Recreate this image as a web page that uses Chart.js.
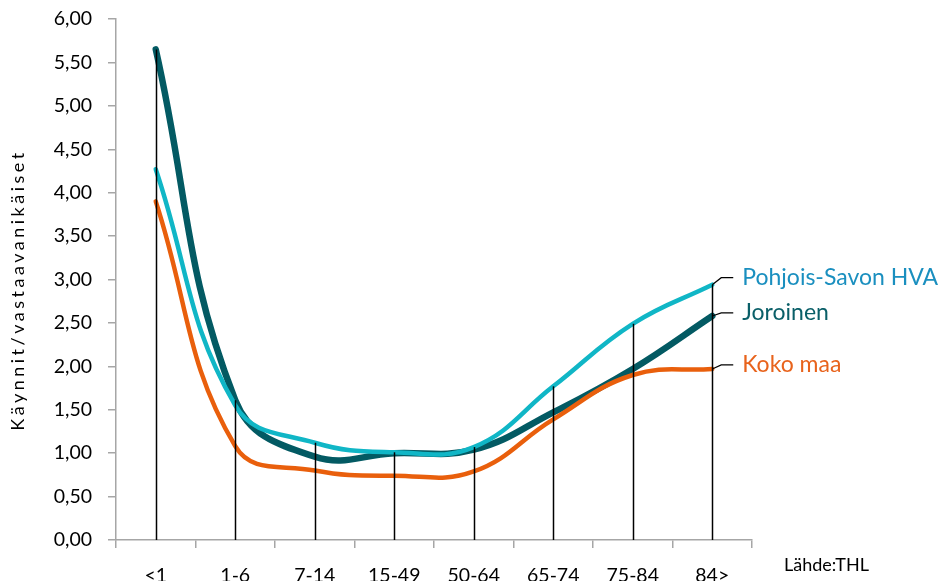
<!DOCTYPE html>
<html>
<head>
<meta charset="utf-8">
<script src="https://cdn.jsdelivr.net/npm/chart.js@4.4.1/dist/chart.umd.min.js"></script>
<style>
  html, body { margin: 0; padding: 0; background: #fff; }
  #wrap { width: 947px; height: 581px; }
</style>
</head>
<body>
<div id="wrap"><canvas id="ageChart" width="947" height="581"></canvas></div>
<script>
// age groups and visits per same-aged population
const ageGroups = ['<1', '1-6', '7-14', '15-49', '50-64', '65-74', '75-84', '84>'];
const pohjoisSavo = [4.27, 1.55, 1.12, 1.01, 1.07, 1.77, 2.49, 2.94];
const joroinen = [5.65, 1.61, 0.96, 1.00, 1.04, 1.47, 1.97, 2.58];
const kokoMaa = [3.90, 1.08, 0.80, 0.74, 0.79, 1.39, 1.90, 1.97];
const yTicks = [0, 0.5, 1, 1.5, 2, 2.5, 3, 3.5, 4, 4.5, 5, 5.5, 6];

const seriesLabels = ['Pohjois-Savon HVA', 'Joroinen', 'Koko maa'];
const labelColors = ['#1a8fbf', '#0a5f68', '#e8631c'];
const fontFamily = 'Lato, "Noto Sans", sans-serif';

// vertical drop lines from zero up to the highest value in each group
const dropLines = {
  id: 'dropLines',
  afterDatasetsDraw(chart) {
    const ctx = chart.ctx;
    const x = chart.scales.x;
    const y = chart.scales.y;
    ctx.save();
    ctx.strokeStyle = '#000';
    ctx.lineWidth = 1.5;
    ageGroups.forEach((g, i) => {
      const top = Math.max(pohjoisSavo[i], joroinen[i], kokoMaa[i]);
      const px = Math.round(x.getPixelForValue(i)) + 0.5;
      ctx.beginPath();
      ctx.moveTo(px, y.getPixelForValue(0));
      ctx.lineTo(px, y.getPixelForValue(top));
      ctx.stroke();
    });
    ctx.restore();
  }
};

// series names at the right end with small leader lines, axis title, source
const endLabels = {
  id: 'endLabels',
  afterDraw(chart) {
    const ctx = chart.ctx;
    const last = ageGroups.length - 1;
    const px = chart.scales.x.getPixelForValue(last);
    const y = chart.scales.y;
    const ends = [pohjoisSavo[last], joroinen[last], kokoMaa[last]];
    const lift = [7, 3, 4];
    ctx.save();
    ctx.font = '23px ' + fontFamily;
    ctx.textBaseline = 'middle';
    ends.forEach((v, i) => {
      const py = y.getPixelForValue(v);
      ctx.strokeStyle = '#000';
      ctx.lineWidth = 1.2;
      ctx.beginPath();
      ctx.moveTo(px, py);
      ctx.lineTo(px + 9, py - lift[i]);
      ctx.lineTo(px + 21, py - lift[i]);
      ctx.stroke();
      ctx.fillStyle = labelColors[i];
      ctx.fillText(seriesLabels[i], px + 30, py - lift[i]);
    });
    ctx.font = '18px ' + fontFamily;
    ctx.fillStyle = '#000';
    ctx.fillText('Lähde:THL', 784, 565);

    // rotated y axis title with wide letter spacing
    ctx.translate(18, 290);
    ctx.rotate(-Math.PI / 2);
    ctx.font = '18px ' + fontFamily;
    ctx.letterSpacing = '3.5px';
    ctx.textAlign = 'center';
    ctx.fillText('Käynnit/vastaavanikäiset', 0, 0);
    ctx.restore();
  }
};

new Chart(document.getElementById('ageChart'), {
  type: 'line',
  data: {
    labels: ageGroups,
    datasets: [
      {
        label: seriesLabels[0],
        data: pohjoisSavo,
        borderColor: '#10b6c6',
        borderWidth: 4.5
      },
      {
        label: seriesLabels[2],
        data: kokoMaa,
        borderColor: '#e95f0c',
        borderWidth: 4.5
      },
      {
        label: seriesLabels[1],
        data: joroinen,
        borderColor: '#035a63',
        borderWidth: 6.5
      }
    ].map(d => Object.assign(d, {
      tension: 0.42,
      pointRadius: 0,
      pointHoverRadius: 0,
      borderCapStyle: 'round',
      borderJoinStyle: 'round',
      fill: false
    }))
  },
  options: {
    responsive: false,
    animation: false,
    layout: {
      padding: { top: 19, right: 195, left: 0, bottom: 0 }
    },
    plugins: {
      legend: { display: false },
      tooltip: { enabled: false }
    },
    scales: {
      x: {
        offset: true,
        afterFit(scale) {
          scale.height = 41;
          scale.paddingLeft = 0;
          scale.paddingRight = 0;
        },
        grid: {
          offset: true,
          drawOnChartArea: false,
          tickLength: 8,
          color: '#a6a6a6',
          lineWidth: 1.5
        },
        border: { color: '#a6a6a6', width: 1.5 },
        ticks: {
          padding: 16,
          color: '#000',
          font: { family: fontFamily, size: 19.5 },
          maxRotation: 0
        }
      },
      y: {
        min: 0,
        max: 6,
        afterFit(scale) {
          scale.width = 116;
          scale.paddingTop = 0;
          scale.paddingBottom = 0;
        },
        afterBuildTicks(scale) { scale.ticks = yTicks.map(v => ({ value: v })); },
        grid: {
          drawOnChartArea: false,
          tickLength: 8,
          color: '#a6a6a6',
          lineWidth: 1.5
        },
        border: { color: '#a6a6a6', width: 1.5 },
        ticks: {
          padding: 16,
          color: '#000',
          font: { family: fontFamily, size: 19.5 },
          callback: v => v.toFixed(2).replace('.', ',')
        }
      }
    }
  },
  plugins: [dropLines, endLabels]
});
</script>
</body>
</html>
